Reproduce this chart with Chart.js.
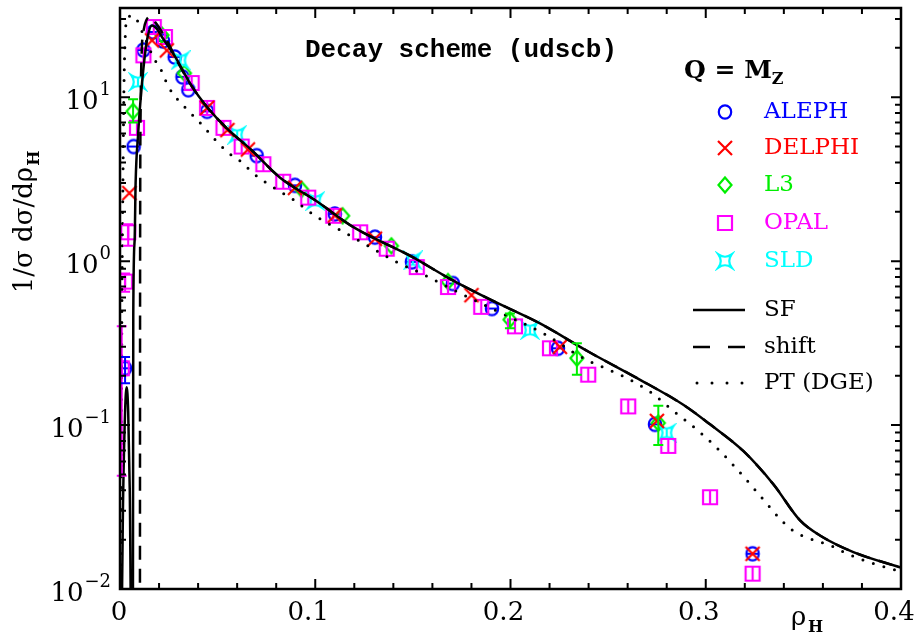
<!DOCTYPE html>
<html>
<head>
<meta charset="utf-8">
<title>Decay scheme (udscb)</title>
<script src="https://cdn.jsdelivr.net/npm/chart.js@4.4.1/dist/chart.umd.min.js"></script>
<style>
    html, body { margin: 0; padding: 0; background: #ffffff; }
    #wrap { width: 915px; height: 637px; position: relative; }
</style>
</head>
<body>
<div id="wrap"><canvas id="rho-chart"></canvas></div>
<script>
// ---- data (x = rho_H, y = 1/sigma dsigma/drho_H) ----
const alephRho = [0.0026, 0.007, 0.012, 0.017, 0.022, 0.028, 0.032, 0.035, 0.0446, 0.070, 0.0896, 0.110, 0.1306, 0.1495, 0.1705, 0.1905, 0.2243, 0.274, 0.324];
const alephVal = [0.222, 5.0, 19.4, 25, 22, 17.6, 13.3, 11.1, 8.2, 4.4, 2.9, 1.94, 1.40, 0.99, 0.73, 0.514, 0.294, 0.101, 0.0164];
const alephErrLo = [0.18, null, null, null, null, null, null, null, null, null, null, null, null, null, null, null, null, null, null];
const alephErrHi = [0.26, null, null, null, null, null, null, null, null, null, null, null, null, null, null, null, null, null, null];

const delphiRho = [0.0048, 0.0164, 0.024, 0.0446, 0.055, 0.0655, 0.0896, 0.110, 0.1306, 0.180, 0.2253, 0.275, 0.324];
const delphiVal = [2.6, 22.2, 19.3, 8.6, 6.3, 4.8, 2.8, 1.9, 1.37, 0.62, 0.30, 0.106, 0.0164];

const l3Rho = [0.0067, 0.0215, 0.033, 0.093, 0.114, 0.139, 0.168, 0.1997, 0.234, 0.2757];
const l3Val = [8.2, 23.9, 14.0, 2.74, 1.89, 1.24, 0.75, 0.44, 0.256, 0.103];
const l3ErrLo = [7.0, null, null, null, null, null, null, 0.39, 0.203, 0.0756];
const l3ErrHi = [9.7, null, null, null, null, null, null, 0.48, 0.316, 0.131];

const opalRho = [0.0009, 0.0026, 0.0042, 0.0087, 0.012, 0.0173, 0.023, 0.0367, 0.0446, 0.053, 0.0623, 0.0734, 0.0836, 0.0964, 0.1092, 0.123, 0.1366, 0.152, 0.168, 0.185, 0.2023, 0.2202, 0.2398, 0.2603, 0.2808, 0.3022, 0.324];
const opalVal = [0.222, 0.75, 1.50, 6.5, 18.0, 26.8, 23.3, 12.2, 8.6, 6.5, 5.0, 3.9, 3.05, 2.44, 1.89, 1.50, 1.19, 0.92, 0.695, 0.526, 0.40, 0.294, 0.203, 0.130, 0.0746, 0.0363, 0.0124];
const opalErrLo = [0.049, 0.65, 1.24, null, null, null, null, null, null, null, null, null, null, null, null, null, null, null, null, null, null, null, null, null, null, null, null];
const opalErrHi = [0.40, 0.84, 1.68, null, null, null, null, null, null, null, null, null, null, null, null, null, null, null, null, null, null, null, null, null, null, null, null];

const sldRho = [0.0092, 0.031, 0.060, 0.100, 0.150, 0.210, 0.280];
const sldVal = [12.4, 16.8, 5.9, 2.33, 1.01, 0.38, 0.0898];

// curves
const sfRho = [0.0008, 0.0015, 0.0026, 0.0034, 0.0042, 0.005, 0.0058, 0.0066, 0.0068, 0.0075, 0.008, 0.0093, 0.0104, 0.012, 0.0138, 0.0164, 0.019, 0.0215, 0.0283, 0.0369, 0.045, 0.055, 0.067, 0.082, 0.1, 0.12, 0.1485, 0.169, 0.19, 0.2151, 0.24, 0.2646, 0.2885, 0.3022, 0.3192, 0.3346, 0.3483, 0.3585, 0.3756, 0.4];
const sfVal = [0.005, 0.03, 0.12, 0.17, 0.12, 0.04, 0.005, 0.005, 0.47, 1.34, 3.0, 6.0, 9.2, 15, 22.2, 27.4, 26, 23.3, 17.6, 11.6, 8.6, 6.4, 4.8, 3.23, 2.35, 1.6, 1.08, 0.78, 0.58, 0.417, 0.28, 0.194, 0.133, 0.101, 0.0695, 0.0436, 0.0262, 0.0212, 0.0168, 0.0135];

const shiftRho = [0.0102, 0.0103, 0.0106, 0.0112, 0.0122, 0.0135, 0.015, 0.018, 0.024, 0.03, 0.0369, 0.045, 0.055, 0.067, 0.082, 0.1, 0.12, 0.1485, 0.169, 0.19, 0.2151, 0.24, 0.2646, 0.2885, 0.3022, 0.3192, 0.3346, 0.3483, 0.3585, 0.3756, 0.4];
const shiftVal = [0.003, 1, 9, 20, 26, 29.5, 30.8, 28.7, 22.2, 16, 11.6, 8.6, 6.4, 4.8, 3.23, 2.35, 1.6, 1.08, 0.78, 0.58, 0.417, 0.28, 0.194, 0.133, 0.101, 0.0695, 0.0436, 0.0262, 0.0212, 0.0168, 0.0135];

const ptRho = [0.0002, 0.0006, 0.001, 0.0015, 0.002, 0.0028, 0.0036, 0.0067, 0.0118, 0.0169, 0.0215, 0.0246, 0.0348, 0.04, 0.05, 0.0553, 0.0625, 0.068, 0.0804, 0.0886, 0.0999, 0.1135, 0.127, 0.1408, 0.1545, 0.175, 0.1955, 0.2168, 0.2373, 0.2578, 0.2714, 0.2834, 0.2954, 0.3073, 0.3175, 0.3227, 0.3329, 0.338, 0.344, 0.35, 0.3645, 0.372, 0.3875, 0.4];
const ptVal = [0.003, 0.05, 0.6, 3, 11, 25, 30.5, 31.4, 24.4, 17.7, 14.3, 11.7, 8.3, 7.2, 5.3, 4.6, 4.0, 3.45, 2.73, 2.38, 1.89, 1.53, 1.24, 1.0, 0.84, 0.63, 0.48, 0.363, 0.256, 0.198, 0.16, 0.122, 0.094, 0.0695, 0.0514, 0.0437, 0.0315, 0.0268, 0.023, 0.021, 0.0183, 0.0165, 0.0141, 0.0128];

// axes
const xTickValues = [0, 0.1, 0.2, 0.3, 0.4];
const xTickLabels = ['0', '0.1', '0.2', '0.3', '0.4'];
const yTickValues = [0.01, 0.1, 1, 10];
const yTickExps = ['\u22122', '\u22121', '0', '1'];

const experiments = ['ALEPH', 'DELPHI', 'L3', 'OPAL', 'SLD'];
const expColours = ['#0000ff', '#ff0000', '#00ee00', '#ff00ff', '#00ffff'];
const curveNames = ['SF', 'shift', 'PT (DGE)'];

const SERIF = '"DejaVu Serif", "Liberation Serif", serif';

function toPoints(xs, ys) {
    return xs.map((x, i) => ({ x: x, y: ys[i] }));
}

// small canvases used as point styles
function makeMarker(shape, colour, withBar) {
    const c = document.createElement('canvas');
    c.width = 20;
    c.height = 20;
    const g = c.getContext('2d');
    g.strokeStyle = colour;
    g.lineWidth = 2.2;
    g.beginPath();
    if (shape === 'circle') {
        g.ellipse(10, 10, 6.2, 6.6, 0, 0, Math.PI * 2);
        if (withBar) { g.moveTo(4, 10); g.lineTo(16, 10); }
    } else if (shape === 'x') {
        g.moveTo(3, 3); g.lineTo(17, 17);
        g.moveTo(17, 3); g.lineTo(3, 17);
    } else if (shape === 'diamond') {
        g.moveTo(10, 2.5); g.lineTo(16.5, 10); g.lineTo(10, 17.5); g.lineTo(3.5, 10); g.closePath();
    } else if (shape === 'square') {
        g.rect(3, 3, 14, 14);
        if (withBar) { g.moveTo(10, 3); g.lineTo(10, 17); }
    } else if (shape === 'star') {
        g.moveTo(3.5, 3.5);
        g.quadraticCurveTo(10, 8, 16.5, 3.5);
        g.quadraticCurveTo(12, 10, 16.5, 16.5);
        g.quadraticCurveTo(10, 12, 3.5, 16.5);
        g.quadraticCurveTo(8, 10, 3.5, 3.5);
        g.closePath();
        if (withBar) { g.moveTo(10, 6); g.lineTo(10, 14); }
    }
    g.stroke();
    return c;
}

const shapes = ['circle', 'x', 'diamond', 'square', 'star'];
const dataMarkers = shapes.map((s, i) => makeMarker(s, expColours[i], true));
const legendMarkers = shapes.map((s, i) => makeMarker(s, expColours[i], false));

function pointSet(label, xs, ys, k, errLo, errHi) {
    return {
        label: label,
        data: toPoints(xs, ys),
        pointStyle: dataMarkers[k],
        pointRadius: 7,
        showLine: false,
        errLo: errLo || null,
        errHi: errHi || null,
        errColour: expColours[k]
    };
}

function curveSet(label, xs, ys, dash) {
    return {
        label: label,
        data: toPoints(xs, ys),
        showLine: true,
        pointRadius: 0,
        borderColor: '#000000',
        borderWidth: dash && dash[0] === 0 ? 3 : 2.5,
        borderDash: dash || [],
        borderCapStyle: dash && dash[0] === 0 ? 'round' : 'butt',
        cubicInterpolationMode: 'monotone',
        fill: false
    };
}

const decorPlugin = {
    id: 'decor',
    afterDatasetsDraw(chart) {
        const { ctx, chartArea: a, scales: { x, y } } = chart;
        // error bars
        chart.data.datasets.forEach((ds) => {
            if (!ds.errLo) return;
            ctx.save();
            ctx.strokeStyle = ds.errColour;
            ctx.lineWidth = 2;
            ds.errLo.forEach((lo, j) => {
                if (lo == null) return;
                const px = x.getPixelForValue(ds.data[j].x);
                const top = y.getPixelForValue(ds.errHi[j]);
                const bot = y.getPixelForValue(lo);
                ctx.beginPath();
                ctx.moveTo(px, top); ctx.lineTo(px, bot);
                ctx.moveTo(px - 5, top); ctx.lineTo(px + 5, top);
                ctx.moveTo(px - 5, bot); ctx.lineTo(px + 5, bot);
                ctx.stroke();
            });
            ctx.restore();
        });
    },
    afterDraw(chart) {
        const { ctx, chartArea: a, scales: { x, y } } = chart;
        ctx.save();
        ctx.strokeStyle = '#000000';
        ctx.fillStyle = '#000000';

        // frame
        ctx.lineWidth = 2.5;
        ctx.strokeRect(a.left, a.top, a.right - a.left, a.bottom - a.top);

        // inward ticks
        ctx.lineWidth = 2;
        ctx.beginPath();
        for (let i = 0; i <= 20; i++) {
            const px = x.getPixelForValue(i * 0.02);
            const len = i % 5 === 0 ? 10 : 6;
            ctx.moveTo(px, a.bottom); ctx.lineTo(px, a.bottom - len);
            ctx.moveTo(px, a.top); ctx.lineTo(px, a.top + len);
        }
        for (let e = -2; e <= 1; e++) {
            for (let m = 1; m <= 9; m++) {
                const v = m * Math.pow(10, e);
                if (v > y.max) break;
                const py = y.getPixelForValue(v);
                const len = m === 1 ? 10 : 6;
                ctx.moveTo(a.left, py); ctx.lineTo(a.left + len, py);
                ctx.moveTo(a.right, py); ctx.lineTo(a.right - len, py);
            }
        }
        ctx.stroke();

        // x tick labels
        ctx.font = '26px ' + SERIF;
        ctx.textAlign = 'center';
        ctx.textBaseline = 'middle';
        xTickValues.forEach((v, i) => {
            const px = x.getPixelForValue(v) - (v === 0 ? 1 : 7);
            ctx.fillText(xTickLabels[i], px, 613);
        });

        // y tick labels with superscript exponents
        const right = 111;
        yTickValues.forEach((v, i) => {
            const py = y.getPixelForValue(v);
            ctx.font = '18px ' + SERIF;
            const ew = ctx.measureText(yTickExps[i]).width;
            ctx.textAlign = 'left';
            ctx.fillText(yTickExps[i], right - ew, py - 7);
            ctx.font = '26px ' + SERIF;
            ctx.textAlign = 'right';
            ctx.fillText('10', right - ew - 1, py + 5);
        });

        // axis titles
        ctx.textAlign = 'left';
        ctx.textBaseline = 'alphabetic';
        ctx.font = '26px ' + SERIF;
        ctx.fillText('\u03c1', 791, 625);
        ctx.font = 'bold 16px ' + SERIF;
        ctx.fillText('H', 808, 632);

        ctx.save();
        ctx.translate(32, 222);
        ctx.rotate(-Math.PI / 2);
        ctx.font = '26px ' + SERIF;
        const main = '1/\u03c3 d\u03c3/d\u03c1';
        const mw = ctx.measureText(main).width;
        ctx.font = 'bold 16px ' + SERIF;
        const sw = ctx.measureText('H').width;
        const start = -(mw + sw + 1) / 2;
        ctx.font = '26px ' + SERIF;
        ctx.fillText(main, start, 0);
        ctx.font = 'bold 16px ' + SERIF;
        ctx.fillText('H', start + mw + 1, 7);
        ctx.restore();

        // title
        ctx.font = 'bold 26px "Liberation Mono", "DejaVu Sans Mono", monospace';
        ctx.fillText('Decay scheme (udscb)', 305, 57);

        // legend header
        ctx.font = 'bold 25px ' + SERIF;
        ctx.fillText('Q = M', 684, 78);
        const qw = ctx.measureText('Q = M').width;
        ctx.font = 'bold 16px ' + SERIF;
        ctx.fillText('Z', 684 + qw, 84);

        // legend entries
        ctx.textBaseline = 'middle';
        ctx.font = '23px ' + SERIF;
        const rowY = [112, 148, 185, 223, 261];
        experiments.forEach((name, k) => {
            ctx.drawImage(legendMarkers[k], 725 - 10, rowY[k] - 10);
            ctx.fillStyle = expColours[k];
            ctx.fillText(name, 764, rowY[k]);
        });
        ctx.fillStyle = '#000000';
        const lineY = [310, 347, 383];
        const dashes = [[], [17, 18], [0, 15]];
        curveNames.forEach((name, k) => {
            ctx.save();
            ctx.lineWidth = k === 2 ? 3 : 2.5;
            ctx.lineCap = k === 2 ? 'round' : 'butt';
            ctx.setLineDash(dashes[k]);
            ctx.beginPath();
            ctx.moveTo(k === 2 ? 697 : 693, lineY[k]);
            ctx.lineTo(745, lineY[k]);
            ctx.stroke();
            ctx.restore();
            ctx.fillText(name, 764, lineY[k]);
        });
        ctx.restore();
    }
};

const ctx = document.getElementById('rho-chart').getContext('2d');
const chart = new Chart(ctx, {
    type: 'scatter',
    data: {
        datasets: [
            curveSet('SF', sfRho, sfVal, null),
            curveSet('shift', shiftRho, shiftVal, [14, 9]),
            curveSet('PT (DGE)', ptRho, ptVal, [0, 11]),
            pointSet('DELPHI', delphiRho, delphiVal, 1),
            pointSet('OPAL', opalRho, opalVal, 3, opalErrLo, opalErrHi),
            pointSet('SLD', sldRho, sldVal, 4),
            pointSet('L3', l3Rho, l3Val, 2, l3ErrLo, l3ErrHi),
            pointSet('ALEPH', alephRho, alephVal, 0, alephErrLo, alephErrHi)
        ]
    },
    options: {
        responsive: true,
        maintainAspectRatio: false,
        animation: false,
        devicePixelRatio: 1,
        layout: {
            padding: { left: 120, top: 4, right: 14, bottom: 48 }
        },
        plugins: {
            legend: { display: false },
            tooltip: { enabled: false }
        },
        scales: {
            x: { type: 'linear', min: 0, max: 0.4, display: false },
            y: { type: 'logarithmic', min: 0.01, max: 35, display: false }
        }
    },
    plugins: [decorPlugin]
});
</script>
</body>
</html>
